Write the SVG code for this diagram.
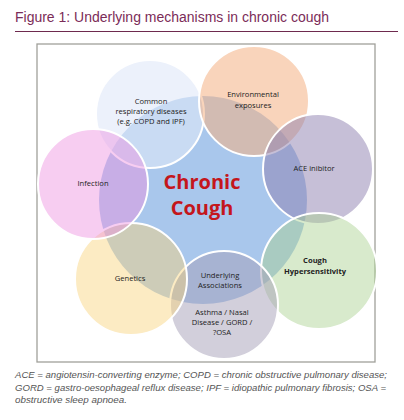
<svg xmlns="http://www.w3.org/2000/svg" width="404" height="420" viewBox="0 0 404 420">
<style>
.title{font-family:"Liberation Sans",Arial,sans-serif;font-size:14px;fill:#7b2c58}
.cap{font-family:"Liberation Sans",Arial,sans-serif;font-size:9.5px;font-style:italic;fill:#555}
.lbl{font-family:"Open Sans","Liberation Sans",sans-serif;font-size:7.6px;fill:#222;text-anchor:middle}
.bold{font-weight:bold}
.petal{stroke:#fff;stroke-width:2}
.core{font-family:"Open Sans","Liberation Sans",sans-serif;font-size:20px;font-weight:bold;fill:#c4161c;text-anchor:middle}
</style>
<rect width="404" height="420" fill="#fff"/>
<text class="title" x="15" y="22" textLength="314" lengthAdjust="spacingAndGlyphs">Figure 1: Underlying mechanisms in chronic cough</text>
<line x1="15" y1="31.5" x2="398" y2="31.5" stroke="#6e2a4e" stroke-width="1.2"/>
<rect x="37" y="44" width="338" height="318" fill="#fff" stroke="#a0a09a" stroke-width="1.3"/>
<g id="center">
<circle cx="203" cy="200" r="104" fill="#a9c7ec"/>
</g>
<g id="n-common">
<circle class="petal" cx="150" cy="114" r="54" fill="#dfe8f8" fill-opacity="0.6"/>
<text class="lbl" x="151" y="104">Common</text>
<text class="lbl" x="151" y="114">respiratory diseases</text>
<text class="lbl" x="151" y="124">(e.g. COPD and IPF)</text>
</g>
<g id="n-env">
<circle class="petal" cx="254" cy="101" r="55" fill="#f4b183" fill-opacity="0.55"/>
<text class="lbl" x="253" y="97">Environmental</text>
<text class="lbl" x="253" y="108">exposures</text>
</g>
<g id="n-ace">
<circle class="petal" cx="318" cy="169" r="55" fill="#8e7fb0" fill-opacity="0.5"/>
<text class="lbl" x="314" y="171">ACE inibitor</text>
</g>
<g id="n-cough">
<circle class="petal" cx="319" cy="271" r="58" fill="#a9d18e" fill-opacity="0.45"/>
<text class="lbl bold" x="315" y="263">Cough</text>
<text class="lbl bold" x="315" y="274">Hypersensitivity</text>
</g>
<g id="n-underlying">
<circle class="petal" cx="224" cy="305" r="54" fill="#a59fb8" fill-opacity="0.5"/>
<text class="lbl" x="220" y="278">Underlying</text>
<text class="lbl" x="220" y="288">Associations</text>
<text class="lbl" x="222" y="315">Asthma / Nasal</text>
<text class="lbl" x="222" y="325">Disease  / GORD /</text>
<text class="lbl" x="222" y="335">?OSA</text>
</g>
<g id="n-genetics">
<circle class="petal" cx="131" cy="279" r="56" fill="#f9d27a" fill-opacity="0.45"/>
<text class="lbl" x="130" y="281">Genetics</text>
</g>
<g id="n-infection">
<circle class="petal" cx="93" cy="184" r="55" fill="#ee90e0" fill-opacity="0.45"/>
<text class="lbl" x="93" y="186">Infection</text>
</g>
<g id="center-label">
<text class="core" x="202" y="189">Chronic</text>
<text class="core" x="202" y="215">Cough</text>
</g>
<g id="connectors"/>
<text class="cap" x="15" y="378" textLength="372" lengthAdjust="spacingAndGlyphs">ACE = angiotensin-converting enzyme; COPD = chronic obstructive pulmonary disease;</text>
<text class="cap" x="15" y="390.5" textLength="371" lengthAdjust="spacingAndGlyphs">GORD = gastro-oesophageal reflux disease; IPF = idiopathic pulmonary fibrosis; OSA =</text>
<text class="cap" x="15" y="403" textLength="112" lengthAdjust="spacingAndGlyphs">obstructive sleep apnoea.</text>
</svg>
